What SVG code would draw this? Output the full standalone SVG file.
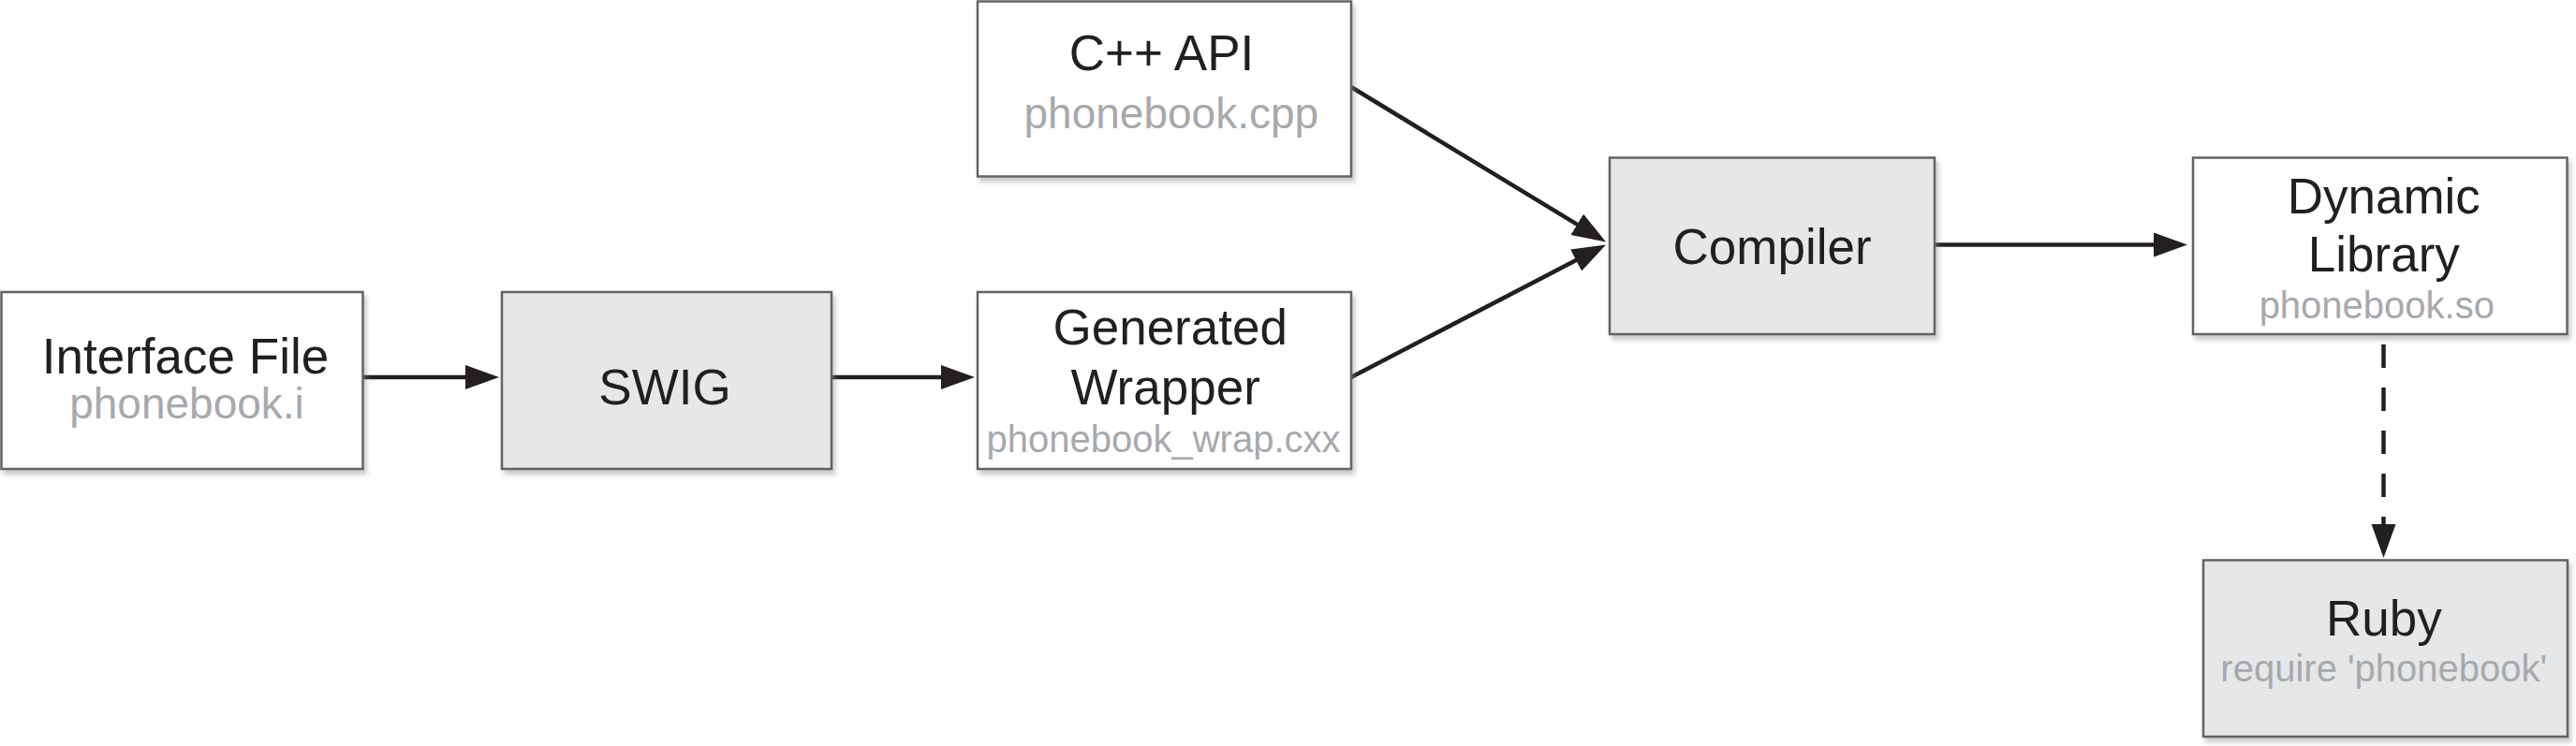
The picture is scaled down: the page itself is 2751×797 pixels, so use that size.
<svg xmlns="http://www.w3.org/2000/svg" width="2751" height="797" viewBox="0 0 2751 797">
<style>
.box{stroke:#636466;stroke-width:2.5;filter:url(#sh)}
.w{fill:#ffffff}
.g{fill:#e6e7e8}
.t{font-family:"Liberation Sans",Arial,sans-serif;font-size:53px;fill:#231f20;text-anchor:middle}
.s{font-family:"Liberation Sans",Arial,sans-serif;fill:#a7a9ac;text-anchor:middle}
.s46{font-size:46px}
.s40{font-size:40px}
.c{fill:none;stroke:#231f20;stroke-width:4.5}
.d{stroke-dasharray:25 21}
</style>
<defs>
<filter id="sh" x="-5%" y="-5%" width="115%" height="120%">
<feDropShadow dx="3" dy="5" stdDeviation="2.5" flood-color="#8a8a8a" flood-opacity="0.45"/>
</filter>
<marker id="ah" markerUnits="userSpaceOnUse" markerWidth="40" markerHeight="30" refX="6" refY="13" orient="auto">
<path d="M0,0 L36,13 L0,26 Z" fill="#231f20"/>
</marker>
</defs>
<rect width="2751" height="797" fill="#ffffff"/>
<g id="connectors">
<line class="c" x1="388" y1="403" x2="503" y2="403" marker-end="url(#ah)"/>
<line class="c" x1="888" y1="403" x2="1011" y2="403" marker-end="url(#ah)"/>
<line class="c" x1="1443" y1="93" x2="1689.4" y2="242.9" marker-end="url(#ah)"/>
<line class="c" x1="1443" y1="403" x2="1688.4" y2="275.3" marker-end="url(#ah)"/>
<line class="c" x1="2067" y1="261.5" x2="2306" y2="261.5" marker-end="url(#ah)"/>
<line class="c d" x1="2545.5" y1="368" x2="2545.5" y2="566" marker-end="url(#ah)"/>
</g>
<g id="interface">
<rect class="box w" x="1.5" y="312" width="386" height="189"/>
<text class="t" x="198" y="399">Interface File</text>
<text class="s s46" x="199.5" y="446.7">phonebook.i</text>
</g>
<g id="swig">
<rect class="box g" x="536" y="312" width="352" height="189"/>
<text class="t" x="710" y="431.7">SWIG</text>
</g>
<g id="cppapi">
<rect class="box w" x="1044" y="1.5" width="399" height="187"/>
<text class="t" x="1240.5" y="75">C++ API</text>
<text class="s s46" x="1250.8" y="137.3">phonebook.cpp</text>
</g>
<g id="wrapper">
<rect class="box w" x="1044" y="312" width="399" height="189"/>
<text class="t" x="1249.7" y="367.7">Generated</text>
<text class="t" x="1244.7" y="431.7">Wrapper</text>
<text class="s s40" x="1242.5" y="482.7">phonebook_wrap.cxx</text>
</g>
<g id="compiler">
<rect class="box g" x="1719" y="168.5" width="347" height="188.5"/>
<text class="t" x="1892.6" y="281.7">Compiler</text>
</g>
<g id="dynlib">
<rect class="box w" x="2342" y="168.5" width="399.5" height="188.5"/>
<text class="t" x="2545.8" y="228.3">Dynamic</text>
<text class="t" x="2545.8" y="290">Library</text>
<text class="s s40" x="2538.3" y="340">phonebook.so</text>
</g>
<g id="ruby">
<rect class="box g" x="2353" y="598.5" width="389" height="188.5"/>
<text class="t" x="2545.8" y="679">Ruby</text>
<text class="s s40" x="2545.8" y="728.3">require 'phonebook'</text>
</g>
</svg>
